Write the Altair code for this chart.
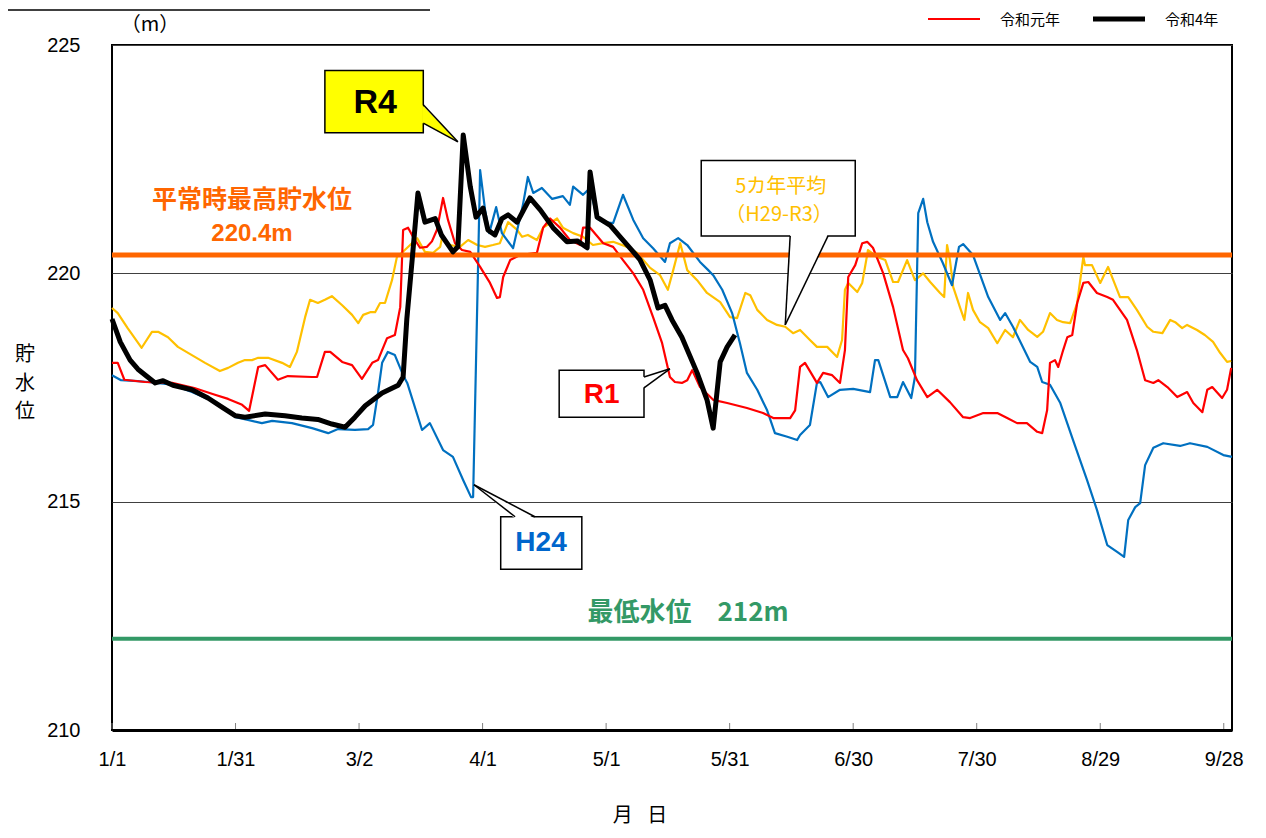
import altair as alt
import pandas as pd

# ---------------- data (day of year: 0 = 1/1, level in m) ----------------
R1 = [(0, 218.04), (1.4, 218.04), (3, 217.67), (8, 217.62), (14.6, 217.6), (20, 217.49), (25, 217.34),
      (28.2, 217.25), (31.6, 217.12), (33.3, 216.99), (35.5, 217.95), (37.2, 217.99), (40.3, 217.67),
      (42.7, 217.75), (48.6, 217.73), (49.8, 217.73), (51.7, 218.28), (53, 218.28), (55.9, 218.06),
      (58.3, 217.99), (60.7, 217.69), (63.2, 218.04), (64.6, 218.1), (66.8, 218.58), (68.7, 218.65),
      (70, 219.26), (70.7, 220.95), (71.9, 221.0), (73.1, 220.8), (74.8, 220.56), (76.5, 220.58),
      (77.7, 220.7), (78.9, 220.95), (80.4, 221.65), (81.6, 221.17), (83.3, 220.66), (85, 220.51),
      (87, 220.47), (89.4, 220.14), (91.8, 219.79), (93.5, 219.46), (94.2, 219.48), (95, 219.92),
      (96.7, 220.29), (99.1, 220.4), (103.2, 220.45), (104.7, 221.0), (106.4, 221.2), (108.8, 221.0),
      (111.2, 220.73), (113.7, 220.62), (114.4, 221.0), (116.1, 221.0), (119.3, 220.66), (121.7, 220.58),
      (124.1, 220.29), (126.6, 220.0), (129, 219.64), (131.4, 219.04), (133.6, 218.47), (135.5, 217.73),
      (136.7, 217.62), (138.4, 217.6), (139.7, 217.66), (140.9, 217.88), (142.8, 217.51), (146, 217.23),
      (149.4, 217.16), (154.2, 217.05), (158.1, 216.94), (160.6, 216.83), (164.7, 216.83), (165.9, 217.0),
      (167.1, 217.95), (168.3, 218.04), (171.2, 217.6), (172.7, 217.82), (174.9, 217.77), (176.8, 217.6),
      (178, 218.32), (178.8, 219.92), (180.5, 220.18), (182.2, 220.66), (183.4, 220.69), (184.8, 220.56),
      (187.3, 220.0), (189.7, 219.26), (192.1, 218.32), (193.3, 218.14), (195.5, 217.66), (198, 217.29),
      (200.4, 217.45), (203.5, 217.18), (206.7, 216.85), (208.4, 216.83), (211.6, 216.94), (215, 216.94),
      (217.4, 216.83), (219.8, 216.72), (222.2, 216.72), (224.7, 216.53), (225.9, 216.5), (227.1, 217.0),
      (227.8, 218.04), (229, 218.1), (229.8, 217.95), (231, 218.32), (232, 218.6), (233.2, 218.65),
      (234.4, 219.35), (235.9, 219.79), (237.1, 219.81), (239.2, 219.57), (241.7, 219.48), (243.1, 219.42),
      (244.8, 219.2), (246.5, 218.98), (248.9, 218.32), (250.9, 217.66), (252.9, 217.6), (254.1, 217.66),
      (256.3, 217.51), (258.7, 217.29), (261.1, 217.4), (262.6, 217.16), (264.8, 216.96), (266, 217.45),
      (267.2, 217.51), (269.6, 217.27), (270.8, 217.45), (271.8, 217.93)]

R4 = [(0, 219.0), (2, 218.5), (4.4, 218.1), (6.3, 217.9), (10.5, 217.6), (12.4, 217.65), (14.8, 217.55),
      (19.4, 217.45), (23.3, 217.27), (26.7, 217.07), (30, 216.88), (32.3, 216.85), (37.2, 216.92),
      (42, 216.88), (46.1, 216.83), (50, 216.8), (53.4, 216.7), (56.6, 216.63), (59, 216.85), (61.5, 217.1),
      (65.6, 217.38), (69.5, 217.55), (70.7, 217.73), (71.6, 219.0), (72.9, 220.3), (74.3, 221.76),
      (76, 221.12), (78.5, 221.2), (80, 220.84), (82.8, 220.47), (84, 220.58), (85.3, 223.03), (87, 221.9),
      (88.4, 221.23), (90.1, 221.43), (91.3, 220.95), (93, 220.84), (94.7, 221.2), (96.2, 221.28),
      (98.4, 221.12), (101.5, 221.65), (104, 221.39), (107.1, 221.0), (110.5, 220.69), (113, 220.71),
      (115.4, 220.56), (116.1, 222.22), (117.8, 221.23), (121, 221.05), (123.4, 220.8), (126.6, 220.47),
      (128.2, 220.3), (130.7, 219.85), (132.6, 219.24), (134.3, 219.3), (136, 218.98), (138.4, 218.6),
      (142.1, 217.82), (144.5, 217.23), (146, 216.61), (147.7, 218.06), (149.4, 218.39), (151.3, 218.65)]

H24 = [(0, 217.77), (2.2, 217.66), (6.3, 217.64), (8.7, 217.62), (14.6, 217.56), (19.4, 217.4), (25, 217.18),
       (30, 216.85), (33, 216.79), (36.4, 216.72), (38.9, 216.77), (43.7, 216.72), (48.6, 216.61),
       (52.5, 216.5), (54.9, 216.59), (59, 216.57), (62.2, 216.59), (63.4, 216.68), (64.6, 217.38),
       (65.6, 218.04), (67, 218.28), (68.7, 218.21), (70.7, 217.77), (71.7, 217.6), (75.3, 216.57),
       (77.2, 216.72), (80.4, 216.13), (82.8, 215.98), (85.3, 215.47), (87.2, 215.1), (87.7, 215.1),
       (89.4, 222.26), (90.6, 221.39), (91.6, 220.88), (93.3, 221.45), (94.7, 220.88), (97.4, 220.55),
       (99.8, 221.5), (101, 222.11), (102.3, 221.76), (104.4, 221.87), (106.9, 221.63), (109.5, 221.69),
       (111.2, 221.5), (112, 221.9), (114.4, 221.72), (116.1, 221.87), (117.8, 221.2), (119.3, 221.12),
       (121.7, 221.1), (124.1, 221.72), (126.6, 221.17), (129, 220.77), (131.4, 220.55), (134.3, 220.25),
       (135.5, 220.66), (137.5, 220.77), (139.7, 220.62), (142.8, 220.25), (144.8, 220.07), (146, 219.96),
       (148.2, 219.64), (150.6, 219.13), (152.5, 218.47), (154.2, 217.82), (156.7, 217.45), (159.1, 217.0),
       (161, 216.5), (164, 216.42), (166.4, 216.35), (167.1, 216.46), (169.5, 216.68), (171.2, 217.6),
       (172, 217.62), (173.9, 217.29), (176.8, 217.45), (180, 217.47), (184.1, 217.4), (185.3, 218.1),
       (186.1, 218.1), (189, 217.29), (190.7, 217.29), (192.1, 217.62), (194.1, 217.27), (195, 217.73),
       (195.8, 221.32), (197, 221.63), (198, 221.12), (199.4, 220.69), (201.8, 220.22), (204, 219.74),
       (205.7, 220.58), (206.7, 220.64), (209.1, 220.4), (212.8, 219.48), (215.7, 218.98), (216.9, 219.13),
       (218.8, 218.83), (223, 218.06), (224.7, 217.95), (225.9, 217.62), (227.8, 217.56), (230.3, 217.16),
       (233.4, 216.35), (236.8, 215.47), (239.2, 214.82), (241.7, 214.05), (244.1, 213.9), (245.8, 213.79),
       (246.8, 214.6), (248.5, 214.88), (249.7, 214.97), (250.9, 215.8), (252.9, 216.18), (255.3, 216.28),
       (259.4, 216.22), (261.8, 216.28), (266, 216.2), (269.9, 216.02), (272, 215.98)]

AVG5 = [(0, 219.24), (1.4, 219.13), (3.8, 218.8), (7.2, 218.37), (9.7, 218.72), (11.2, 218.72), (13.6, 218.6),
        (16, 218.39), (19.4, 218.21), (22.6, 218.04), (26.2, 217.86), (28.2, 217.93), (30.6, 218.04),
        (32.3, 218.1), (34, 218.1), (35.5, 218.15), (37.9, 218.15), (41.3, 218.04), (43.2, 217.95),
        (44.9, 218.28), (46.9, 219.04), (48.1, 219.42), (50, 219.35), (51.7, 219.42), (53.4, 219.5),
        (55.9, 219.3), (58.3, 219.09), (59.8, 218.91), (61, 219.09), (62.7, 219.15), (63.9, 219.15),
        (65.1, 219.35), (66.3, 219.35), (68, 219.85), (69.2, 220.36), (70.4, 220.45), (72.4, 220.62),
        (74.1, 220.77), (76, 220.47), (78, 220.45), (79.7, 220.58), (80.2, 220.8), (82.1, 220.62),
        (84.5, 220.58), (86.5, 220.73), (88.7, 220.62), (90.6, 220.58), (92.5, 220.62), (94.2, 220.66),
        (96.2, 221.12), (98.4, 220.95), (99.6, 220.8), (101, 220.84), (103.2, 220.73), (104.7, 221.0),
        (108.1, 221.2), (109.5, 221.0), (112, 220.88), (114.4, 220.8), (116.8, 220.62), (119.3, 220.66),
        (121.7, 220.69), (125.1, 220.58), (127.5, 220.45), (130.7, 220.12), (133.1, 219.96), (135, 219.64),
        (136.3, 220.07), (138, 220.66), (139.7, 220.07), (142.1, 219.85), (144.5, 219.57), (147.7, 219.37),
        (150.1, 219.04), (151.8, 219.02), (153.8, 219.57), (155, 219.52), (156.7, 219.2), (159.1, 218.98),
        (161.5, 218.87), (163.5, 218.83), (165.4, 218.69), (167.1, 218.76), (169.5, 218.54), (171.2, 218.39),
        (173.7, 218.39), (176.1, 218.17), (177.3, 218.54), (178, 219.64), (178.8, 219.79), (181, 219.59),
        (182.2, 219.79), (183.6, 220.51), (185.8, 220.36), (187.8, 220.29), (189.7, 219.81), (190.9, 219.81),
        (193.1, 220.29), (195, 219.85), (197, 220.0), (198.7, 219.81), (201.1, 219.57), (202.1, 219.48),
        (202.8, 220.62), (203.5, 220.29), (204.3, 219.7), (206, 219.24), (207, 218.98), (207.9, 219.57),
        (209.1, 219.2), (210.8, 218.93), (212.8, 218.8), (215, 218.47), (216.9, 218.76), (218.8, 218.6),
        (220.5, 218.98), (222.5, 218.76), (224.7, 218.61), (226.1, 218.72), (227.8, 219.13), (229.5, 218.98),
        (231, 218.93), (232.7, 218.91), (234.4, 219.35), (235.9, 220.36), (236.3, 220.18), (238, 220.18),
        (240, 219.79), (241.9, 220.14), (244.8, 219.48), (246.8, 219.48), (248.9, 219.2), (251.4, 218.83),
        (252.9, 218.72), (255.1, 218.69), (257, 218.98), (258.2, 218.93), (259.9, 218.8), (261.1, 218.87),
        (263.5, 218.76), (265.4, 218.65), (267.4, 218.5), (269.1, 218.26), (270.8, 218.06), (271.8, 218.08)]

X_TICK_DAYS = [0, 30, 60, 90, 120, 150, 180, 210, 240, 270]
X_TICK_LABELS = ["1/1", "1/31", "3/2", "4/1", "5/1", "5/31", "6/30", "7/30", "8/29", "9/28"]
Y_TICKS = [210, 215, 220, 225]
NORMAL_MAX = 220.4
MIN_LEVEL = 212.0

# ---------------- styling ----------------
JP = "Noto Sans CJK JP"
LAT = "Liberation Sans"
ORANGE = "#FF6600"
GREEN = "#339966"
YELLOW = "#FFC000"
BLUE = "#0070C0"
RED = "#FF0000"

xs = alt.Scale(domain=[0, 272], nice=False, zero=False)
ys = alt.Scale(domain=[210, 225], nice=False, zero=False)
label_expr = "[" + ",".join(f"'{t}'" for t in X_TICK_LABELS) + "][round(datum.value / 30)]"

x_axis = alt.Axis(values=X_TICK_DAYS, labelExpr=label_expr, title=None, ticks=False, grid=False,
                  domain=True, domainColor="black", domainWidth=3, labelFontSize=20, labelPadding=19,
                  labelFont=LAT, labelColor="black", labelFlush=False, labelOverlap=False)
y_axis = alt.Axis(values=Y_TICKS, title=None, ticks=False, grid=True, gridColor="#404040", gridWidth=1,
                  domain=False, labelFontSize=20, labelPadding=32, labelFont=LAT, labelColor="black",
                  labelFlush=False, labelOverlap=False)


def X(field):
    return alt.X(f"{field}:Q", scale=xs, axis=x_axis)


def Y(field):
    return alt.Y(f"{field}:Q", scale=ys, axis=y_axis)


def frame(pairs):
    return pd.DataFrame(pairs, columns=["day", "level"])


def line(pairs, color, width):
    return alt.Chart(frame(pairs)).mark_line(color=color, strokeWidth=width, strokeJoin="round").encode(
        x=X("day"), y=Y("level"))


layers = []

# inward x ticks
layers.append(alt.Chart(pd.DataFrame({"day": X_TICK_DAYS})).mark_rule(color="#808080", strokeWidth=1).encode(
    x=X("day"), y=alt.value(684), y2=alt.value(678)))

layers.append(line(AVG5, YELLOW, 2.2))
layers.append(line(H24, BLUE, 2.2))
layers.append(line(R1, RED, 2.2))

# reference levels
layers.append(alt.Chart(pd.DataFrame({"level": [NORMAL_MAX]})).mark_rule(color=ORANGE, strokeWidth=5).encode(
    y=Y("level")))
layers.append(alt.Chart(pd.DataFrame({"level": [MIN_LEVEL]})).mark_rule(color=GREEN, strokeWidth=4).encode(
    y=Y("level")))

layers.append(line(R4, "black", 5))


def text_layer(df, **kw):
    return alt.Chart(df).mark_text(**kw).encode(x=X("day"), y=Y("level"), text="label:N")


# reference level labels
layers.append(text_layer(pd.DataFrame({"day": [34.0], "level": [221.61], "label": ["平常時最高貯水位"]}),
                         font=JP, fontSize=25, fontWeight="bold", color=ORANGE))
layers.append(text_layer(pd.DataFrame({"day": [34.0], "level": [220.86], "label": ["220.4m"]}),
                         font=LAT, fontSize=24, fontWeight="bold", color=ORANGE))
layers.append(text_layer(pd.DataFrame({"day": [139.9], "level": [212.56], "label": ["最低水位\u3000212m"]}),
                         font=JP, fontSize=26, fontWeight="bold", color=GREEN))


# ---------------- callouts ----------------
def box(x0, x1, y0, y1, fill):
    return alt.Chart(pd.DataFrame({"x0": [x0], "x1": [x1], "y0": [y0], "y1": [y1]})).mark_rect(
        fill=fill, stroke="black", strokeWidth=1.5).encode(
        x=X("x0"), x2=alt.X2("x1"), y=Y("y0"), y2=alt.Y2("y1"))


def wedge_v(xa, ya_hi, ya_lo, xt, yt, fill):
    df = pd.DataFrame({"day": [xa, xt], "hi": [ya_hi, yt], "lo": [ya_lo, yt]})
    return alt.Chart(df).mark_area(color=fill, opacity=1).encode(x=X("day"), y=Y("hi"), y2=alt.Y2("lo"))


def wedge_h(ya, xa_l, xa_r, xt, yt, fill):
    df = pd.DataFrame({"level": [ya, yt], "xl": [xa_l, xt], "xr": [xa_r, xt]})
    return alt.Chart(df).mark_area(color=fill, opacity=1, orient="horizontal").encode(
        y=Y("level"), x=X("xl"), x2=alt.X2("xr"))


def segs(rows):
    df = pd.DataFrame(rows, columns=["xa", "ya", "xb", "yb"])
    return alt.Chart(df).mark_rule(color="black", strokeWidth=1.5).encode(
        x=X("xa"), y=Y("ya"), x2=alt.X2("xb"), y2=alt.Y2("yb"))


# R4
layers.append(box(51.7, 75.6, 224.44, 223.08, "#FFFF00"))
layers.append(wedge_v(75.3, 223.69, 223.29, 84.0, 222.88, "#FFFF00"))
layers.append(segs([(75.6, 223.69, 84.0, 222.88), (75.6, 223.29, 84.0, 222.88)]))
layers.append(text_layer(pd.DataFrame({"day": [63.9], "level": [223.74], "label": ["R4"]}),
                         font=LAT, fontSize=34, fontWeight="bold", color="black"))

# R1
layers.append(box(108.6, 129.2, 217.88, 216.85, "white"))
layers.append(wedge_v(128.9, 217.73, 217.49, 135.5, 217.91, "white"))
layers.append(segs([(129.2, 217.73, 135.5, 217.91), (129.2, 217.49, 135.5, 217.91)]))
layers.append(text_layer(pd.DataFrame({"day": [118.9], "level": [217.34], "label": ["R1"]}),
                         font=LAT, fontSize=28, fontWeight="bold", color=RED))

# H24
layers.append(box(94.4, 114.1, 214.67, 213.52, "white"))
layers.append(wedge_h(214.63, 97.9, 102.7, 87.9, 215.37, "white"))
layers.append(segs([(97.9, 214.67, 87.9, 215.37), (102.7, 214.67, 87.9, 215.37)]))
layers.append(text_layer(pd.DataFrame({"day": [104.2], "level": [214.1], "label": ["H24"]}),
                         font=LAT, fontSize=28, fontWeight="bold", color="#0066CC"))

# 5-year average
layers.append(box(143.1, 180.5, 222.47, 220.82, "white"))
layers.append(wedge_h(220.86, 164.7, 173.9, 163.5, 218.87, "white"))
layers.append(segs([(164.7, 220.82, 163.5, 218.87), (173.9, 220.82, 163.5, 218.87)]))
layers.append(text_layer(pd.DataFrame({"day": [162.4, 162.0], "level": [221.9, 221.28],
                                       "label": ["5カ年平均", "（H29-R3）"]}),
                         font=JP, fontSize=20, color=YELLOW))


# ---------------- page decorations (pixel positions) ----------------
def ptext(txt, x, y, size, align="center", **kw):
    return alt.Chart(pd.DataFrame({"t": [0]})).mark_text(
        font=JP, fontSize=size, align=align, baseline="middle", **kw).encode(
        x=alt.value(x), y=alt.value(y), text=alt.value(txt))


def prule(x0, x1, y, color, width):
    return alt.Chart(pd.DataFrame({"t": [0]})).mark_rule(color=color, strokeWidth=width).encode(
        x=alt.value(x0), x2=alt.value(x1), y=alt.value(y))


layers.append(prule(-104, 318, -35, "black", 1.5))
layers.append(ptext("（m）", 38, -20, 20, color="black"))
layers.append(ptext(["貯", "水", "位"], -87, 310, 20, color="black", lineHeight=28.5))
layers.append(ptext("月\u2002 日", 528, 771, 20, color="black"))
# legend
layers.append(prule(816, 868, -26, RED, 2))
layers.append(ptext("令和元年", 888, -25, 15, align="left", color="black"))
layers.append(prule(981, 1033, -26, "black", 5))
layers.append(ptext("令和4年", 1053, -25, 15, align="left", color="black"))

chart = alt.layer(*layers).properties(
    width=1120, height=685, autosize="none",
    padding={"left": 104, "top": 37, "right": 26, "bottom": 100},
    background="white",
).configure_view(stroke="black", strokeWidth=2)

chart.save("out.html", embed_options={"renderer": "svg", "actions": False})
